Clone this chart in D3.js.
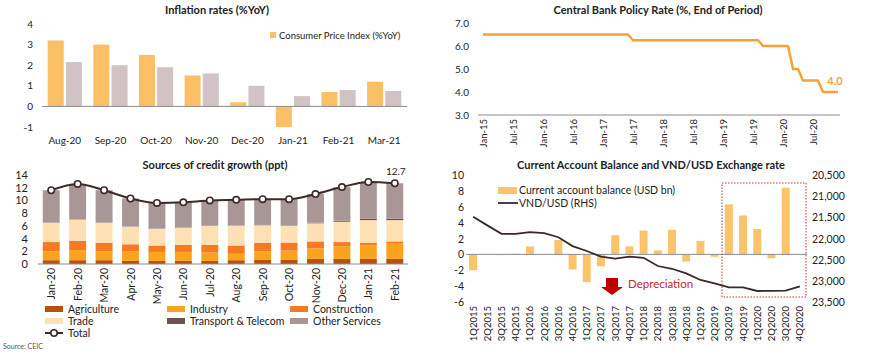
<!DOCTYPE html>
<html><head><meta charset="utf-8">
<script src="https://cdn.jsdelivr.net/npm/d3@7"></script>
<style>
html,body{margin:0;padding:0;background:#fff;}
svg{display:block;font-family:Lato,"Open Sans",sans-serif;}
</style></head><body>
<svg id="c" width="870" height="356"></svg>
<script>
// ---------- DATA ----------
// Panel 1: inflation
const inflMonths = ["Aug-20","Sep-20","Oct-20","Nov-20","Dec-20","Jan-21","Feb-21","Mar-21"];
const cpiYoY = [3.2, 3.0, 2.5, 1.5, 0.2, -1.0, 0.7, 1.2];
const coreYoY = [2.15, 2.0, 1.9, 1.6, 1.0, 0.5, 0.8, 0.75];
const inflTicks = [-1, 0, 1, 2, 3, 4];

// Panel 2: policy rate (monthly Jan-15 .. Dec-20)
const policyYears = ["15","16","17","18","19","20"];
const monNames = ["Jan","Feb","Mar","Apr","May","Jun","Jul","Aug","Sep","Oct","Nov","Dec"];
const policyMonths = policyYears.flatMap(y => monNames.map(m => m + "-" + y));
const policyRate = [
  6.5,6.5,6.5,6.5,6.5,6.5,6.5,6.5,6.5,6.5,6.5,6.5,
  6.5,6.5,6.5,6.5,6.5,6.5,6.5,6.5,6.5,6.5,6.5,6.5,
  6.5,6.5,6.5,6.5,6.5,6.5,6.25,6.25,6.25,6.25,6.25,6.25,
  6.25,6.25,6.25,6.25,6.25,6.25,6.25,6.25,6.25,6.25,6.25,6.25,
  6.25,6.25,6.25,6.25,6.25,6.25,6.25,6.25,6.0,6.0,6.0,6.0,
  6.0,6.0,5.0,5.0,4.5,4.5,4.5,4.5,4.0,4.0,4.0,4.0
];
const policyTicks = [3.0, 4.0, 5.0, 6.0, 7.0];
const policyLabelIdx = [0,6,12,18,24,30,36,42,48,54,60,66];

// Panel 3: credit growth sources
const creditMonths = ["Jan-20","Feb-20","Mar-20","Apr-20","May-20","Jun-20","Jul-20","Aug-20","Sep-20","Oct-20","Nov-20","Dec-20","Jan-21","Feb-21"];
const agriculture = [0.6,0.6,0.6,0.5,0.5,0.5,0.5,0.6,0.7,0.7,0.8,0.8,0.8,0.8];
const industry    = [1.4,1.6,1.4,1.45,1.4,1.4,1.3,1.0,1.3,1.4,1.65,2.0,2.1,2.4];
const construction= [1.45,1.45,1.35,1.15,1.0,1.1,1.2,1.3,1.35,1.25,1.1,0.65,0.45,0.35];
const trade       = [3.05,3.35,3.15,2.8,2.65,2.7,3.0,3.15,2.75,2.65,2.85,3.2,3.55,3.35];
const transport   = [0.05,0.05,0.05,0.05,0.05,0.05,0.05,0.05,0.05,0.05,0.1,0.15,0.2,0.2];
const otherServices=[5.05,5.55,5.05,4.35,4.0,3.95,3.95,4.0,4.05,4.15,4.5,5.3,5.8,5.6];
const creditTotal = [11.6,12.6,11.6,10.3,9.6,9.7,10.0,10.1,10.2,10.2,11.0,12.1,12.9,12.7];
const creditTicks = [0,2,4,6,8,10,12,14];

// Panel 4: current account & VND/USD
const quarters = ["1Q2015","2Q2015","3Q2015","4Q2015","1Q2016","2Q2016","3Q2016","4Q2016",
  "1Q2017","2Q2017","3Q2017","4Q2017","1Q2018","2Q2018","3Q2018","4Q2018",
  "1Q2019","2Q2019","3Q2019","4Q2019","1Q2020","2Q2020","3Q2020","4Q2020"];
const currentAccount = [-2.0,0,-0.1,0.1,1.0,0,1.8,-1.9,-3.5,-1.5,2.4,1.0,3.0,0.5,3.1,-0.9,1.7,-0.3,6.3,4.9,3.2,-0.5,8.4,0];
const vndUsd = [21485,21690,21890,21890,21850,21875,21970,22180,22295,22430,22475,22430,22455,22650,22715,22825,22980,23060,23155,23155,23240,23235,23230,23130];
const caTicks = [-6,-4,-2,0,2,4,6,8,10];
const fxTicks = [20500,21000,21500,22000,22500,23000,23500];

// ---------- DRAW ----------
const svg = d3.select("#c");
const txt = "#222";
const axisGrey = "#8c8c8c";

function title(x, y, s) {
  svg.append("text").attr("x", x).attr("y", y).attr("text-anchor","middle")
    .attr("font-size", 11).attr("font-weight","bold").attr("fill", txt).text(s);
}

// ===== Panel 1 =====
{
  title(217, 14, "Inflation rates (%YoY)");
  const y = d3.scaleLinear().domain([-1,4]).range([127,24]);
  const x = d3.scaleBand().domain(inflMonths).range([42,407]).paddingInner(0.25).paddingOuter(0.125);
  const xs = d3.scaleBand().domain(["cpi","core"]).range([0, x.bandwidth()]).paddingInner(0.12);
  const g = svg.append("g");
  const series = [{k:"cpi", v:cpiYoY, c:"#FBBF66"}, {k:"core", v:coreYoY, c:"#D1C2C4"}];
  series.forEach(s => {
    g.selectAll(null).data(inflMonths).enter().append("rect")
      .attr("x", (d) => x(d) + xs(s.k))
      .attr("width", xs.bandwidth())
      .attr("y", (d,i) => Math.min(y(s.v[i]), y(0)))
      .attr("height", (d,i) => Math.abs(y(s.v[i]) - y(0)))
      .attr("fill", s.c);
  });
  g.append("line").attr("x1",42).attr("x2",407).attr("y1",y(0)).attr("y2",y(0)).attr("stroke",axisGrey).attr("stroke-width",1);
  g.selectAll(null).data(inflTicks).enter().append("text")
    .attr("x", 33).attr("y", d => y(d) + 3.5).attr("text-anchor","end")
    .attr("font-size", 10).attr("fill", txt).text(d => d);
  g.selectAll(null).data(inflMonths).enter().append("text")
    .attr("x", d => x(d) + x.bandwidth()/2).attr("y", 144).attr("text-anchor","middle")
    .attr("font-size", 10).attr("fill", txt).text(d => d);
  // legend
  g.append("rect").attr("x",270).attr("y",32).attr("width",6).attr("height",6).attr("fill","#FBBF66");
  g.append("text").attr("x",279).attr("y",38.5).attr("font-size",9.5).attr("fill",txt).text("Consumer Price Index (%YoY)");
}

// ===== Panel 2 =====
{
  title(658, 14, "Central Bank Policy Rate (%, End of Period)");
  const y = d3.scaleLinear().domain([3,7]).range([115,23]);
  const x = d3.scalePoint().domain(policyMonths).range([483,838]);
  const g = svg.append("g");
  g.append("line").attr("x1",478).attr("x2",840).attr("y1",y(3)).attr("y2",y(3)).attr("stroke",axisGrey);
  g.selectAll(null).data(policyTicks).enter().append("text")
    .attr("x", 469).attr("y", d => y(d) + 3.5).attr("text-anchor","end")
    .attr("font-size", 10).attr("fill", txt).text(d => d.toFixed(1));
  const line = d3.line().x((d,i) => x(policyMonths[i])).y(d => y(d));
  g.append("path").datum(policyRate).attr("d", line).attr("fill","none")
    .attr("stroke","#F4A434").attr("stroke-width",2.5).attr("stroke-linejoin","round");
  g.selectAll(null).data(policyLabelIdx).enter().append("text")
    .attr("transform", d => `translate(${x(policyMonths[d]) + 3.5},119) rotate(-90)`)
    .attr("text-anchor","end").attr("font-size",9.5).attr("fill",txt)
    .text(d => policyMonths[d]);
  const last = policyRate.length - 1;
  g.append("text").attr("x", x(policyMonths[last]) - 3).attr("y", y(policyRate[last]) - 7)
    .attr("text-anchor","middle").attr("font-size",11).attr("font-weight","bold")
    .attr("fill","#F4A434").text(policyRate[last].toFixed(1));
}

// ===== Panel 3 =====
{
  title(215, 169, "Sources of credit growth (ppt)");
  const y = d3.scaleLinear().domain([0,14]).range([264,175]);
  const x = d3.scaleBand().domain(creditMonths).range([38,408]).paddingInner(0.36).paddingOuter(0.18);
  const keys = ["Agriculture","Industry","Construction","Trade","Transport & Telecom","Other Services"];
  const arrs = [agriculture, industry, construction, trade, transport, otherServices];
  const colors = ["#B5520F","#FBA31C","#F57A22","#FEE0B5","#6A5450","#A99696"];
  const rows = creditMonths.map((m,i) => { const o = {m}; keys.forEach((k,j) => o[k] = arrs[j][i]); return o; });
  const stack = d3.stack().keys(keys)(rows);
  const g = svg.append("g");
  stack.forEach((s, j) => {
    g.selectAll(null).data(s).enter().append("rect")
      .attr("x", d => x(d.data.m)).attr("width", x.bandwidth())
      .attr("y", d => y(d[1])).attr("height", d => y(d[0]) - y(d[1]))
      .attr("fill", colors[j]);
  });
  g.append("line").attr("x1",38).attr("x2",408).attr("y1",y(0)).attr("y2",y(0)).attr("stroke",axisGrey);
  g.selectAll(null).data(creditTicks).enter().append("text")
    .attr("x", 28).attr("y", d => y(d) + 4).attr("text-anchor","end")
    .attr("font-size", 11).attr("fill", txt).text(d => d);
  const line = d3.line().x((d,i) => x(creditMonths[i]) + x.bandwidth()/2).y(d => y(d)).curve(d3.curveMonotoneX);
  g.append("path").datum(creditTotal).attr("d", line).attr("fill","none").attr("stroke","#3D2A2A").attr("stroke-width",2);
  g.selectAll(null).data(creditTotal).enter().append("circle")
    .attr("cx", (d,i) => x(creditMonths[i]) + x.bandwidth()/2).attr("cy", d => y(d)).attr("r", 3.2)
    .attr("fill","#fff").attr("stroke","#3D2A2A").attr("stroke-width",1.6);
  const li = creditTotal.length - 1;
  g.append("text").attr("x", x(creditMonths[li]) + x.bandwidth()/2 + 1).attr("y", y(creditTotal[li]) - 8)
    .attr("text-anchor","middle").attr("font-size",10).attr("fill",txt).text(creditTotal[li].toFixed(1));
  g.selectAll(null).data(creditMonths).enter().append("text")
    .attr("transform", d => `translate(${x(d) + x.bandwidth()/2 + 4},268) rotate(-90)`)
    .attr("text-anchor","end").attr("font-size",10.5).attr("fill",txt).text(d => d);
  // legend
  const leg = [
    {k:"Agriculture", c:colors[0], x:45, y:309},
    {k:"Industry", c:colors[1], x:167, y:309},
    {k:"Construction", c:colors[2], x:290, y:309},
    {k:"Trade", c:colors[3], x:45, y:321},
    {k:"Transport & Telecom", c:colors[4], x:167, y:321},
    {k:"Other Services", c:colors[5], x:290, y:321}
  ];
  leg.forEach(l => {
    g.append("rect").attr("x", l.x).attr("y", l.y - 3).attr("width",18).attr("height",6).attr("fill",l.c);
    g.append("text").attr("x", l.x + 23).attr("y", l.y + 3.5).attr("font-size",10.5).attr("fill",txt).text(l.k);
  });
  g.append("line").attr("x1",45).attr("x2",63).attr("y1",333).attr("y2",333).attr("stroke","#3D2A2A").attr("stroke-width",2);
  g.append("circle").attr("cx",54).attr("cy",333).attr("r",3.2).attr("fill","#fff").attr("stroke","#3D2A2A").attr("stroke-width",1.6);
  g.append("text").attr("x",68).attr("y",336.5).attr("font-size",10.5).attr("fill",txt).text("Total");
  svg.append("text").attr("x",3).attr("y",349).attr("font-size",7).attr("fill","#555").text("Source: CEIC");
}

// ===== Panel 4 =====
{
  title(651, 169, "Current Account Balance and VND/USD Exchange rate");
  const y = d3.scaleLinear().domain([-6,10]).range([302,175]);
  const yr = d3.scaleLinear().domain([20500,23500]).range([175,302]);
  const x = d3.scaleBand().domain(quarters).range([466,807]).paddingInner(0.44).paddingOuter(0.22);
  const g = svg.append("g");
  g.selectAll(null).data(quarters).enter().append("rect")
    .attr("x", d => x(d)).attr("width", x.bandwidth())
    .attr("y", (d,i) => Math.min(y(currentAccount[i]), y(0)))
    .attr("height", (d,i) => Math.abs(y(currentAccount[i]) - y(0)))
    .attr("fill","#FBC46A");
  g.append("line").attr("x1",466).attr("x2",807).attr("y1",y(0)).attr("y2",y(0)).attr("stroke",axisGrey);
  const line = d3.line().x((d,i) => x(quarters[i]) + x.bandwidth()/2).y(d => yr(d));
  g.append("path").datum(vndUsd).attr("d", line).attr("fill","none").attr("stroke","#3B2828").attr("stroke-width",1.8);
  g.selectAll(null).data(caTicks).enter().append("text")
    .attr("x", 464).attr("y", d => y(d) + 4).attr("text-anchor","end")
    .attr("font-size",10.5).attr("fill",txt).text(d => d);
  g.selectAll(null).data(fxTicks).enter().append("text")
    .attr("x", 812).attr("y", d => yr(d) + 4).attr("text-anchor","start")
    .attr("font-size",10.5).attr("fill",txt).text(d => d3.format(",")(d));
  g.selectAll(null).data(quarters).enter().append("text")
    .attr("transform", d => `translate(${x(d) + x.bandwidth()/2 + 3.5},306) rotate(-90)`)
    .attr("text-anchor","end").attr("font-size",9.5).attr("fill",txt).text(d => d);
  // dotted box
  g.append("rect").attr("x",722).attr("y",183).attr("width",84).attr("height",114)
    .attr("fill","none").attr("stroke","#C0392B").attr("stroke-width",1).attr("stroke-dasharray","1.5,1.5");
  // legend
  g.append("rect").attr("x",498).attr("y",187).attr("width",19).attr("height",7).attr("fill","#FBC46A");
  g.append("text").attr("x",519).attr("y",194).attr("font-size",10.5).attr("fill",txt).text("Current account balance (USD bn)");
  g.append("line").attr("x1",498).attr("x2",518).attr("y1",203).attr("y2",203).attr("stroke","#3B2828").attr("stroke-width",1.8);
  g.append("text").attr("x",519).attr("y",207).attr("font-size",10.5).attr("fill",txt).text("VND/USD (RHS)");
  // depreciation arrow
  g.append("path").attr("d","M606,278 L618,278 L618,287 L623,287 L612,295 L601,287 L606,287 Z").attr("fill","#C00000");
  g.append("text").attr("x",628).attr("y",288).attr("font-size",11.5).attr("fill","#C0282D").text("Depreciation");
}
</script>
</body></html>
